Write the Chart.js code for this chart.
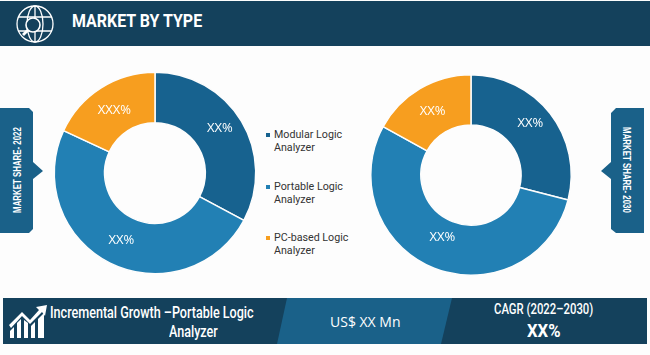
<!DOCTYPE html>
<html>
<head>
<meta charset="utf-8">
<script src="https://cdn.jsdelivr.net/npm/chart.js@4"></script>
<style>
html, body { margin: 0; padding: 0; background: #fdfdfd; }
#page { position: relative; width: 650px; height: 355px; overflow: hidden; font-family: "Roboto", sans-serif; }
#page > * { position: absolute; }
svg { left: 0; top: 0; }
.cv { width: 220px; height: 220px; }
.t { color: #fff; white-space: nowrap; transform-origin: left center; }
.lg { left: 266px; font: 10.7px/13px "Roboto", sans-serif; color: #333; padding-left: 8px; }
.lg i { position: absolute; left: 0; top: 5px; width: 4px; height: 4px; }
.side { color: #fff; font: bold 10.5px "Liberation Sans", sans-serif; white-space: nowrap; }
</style>
</head>
<body>
<div id="page">
  <svg width="650" height="355">
    <rect x="0" y="1" width="650" height="45" fill="#14415c"/>
    <rect x="3" y="298" width="644" height="46" fill="#14415c"/>
    <polygon points="287,298 452,298 441,344 277,344" fill="#1a6189"/>
    <polygon points="0,108 29,108 33,112 33,162 43,171 33,179 33,229 29,233 0,233" fill="#1a6189"/>
    <polygon points="644,108 616,108 611,113 611,162 601,171 611,179 611,229 616,233 644,233" fill="#1a6189"/>
    <g fill="none" stroke="#fff" stroke-width="1.3">
      <circle cx="35" cy="24" r="18"/>
      <ellipse cx="35" cy="24" rx="8" ry="18"/>
      <path d="M35 6V42M18 17H52M18 31H52"/>
      <circle cx="33" cy="25" r="7" fill="#14415c" stroke-width="1.6"/>
      <path d="M28 30L23 35" stroke-width="2.8"/>
    </g>
    <g fill="#fff">
      <polygon points="10,338 10,331 14,327 14,338"/>
      <polygon points="17,338 17,323 21,319 21,338"/>
      <polygon points="24,338 24,320 28,323 28,338"/>
      <polygon points="31,338 31,326 35,322 35,338"/>
      <polygon points="38,338 38,319 44,313 44,338"/>
      <polygon points="47,305 36,307 39,310 30,320 22,312 9,325 11,328 22,316 30,324 42,312 45,316"/>
    </g>
  </svg>
  <canvas id="c1" class="cv" width="220" height="220" style="left:45px;top:63px"></canvas>
  <canvas id="c2" class="cv" width="220" height="220" style="left:361px;top:65px"></canvas>
  <div id="legend"></div>
  <div class="t" style="left:72px;top:9px;font:bold 19px 'Roboto',sans-serif;transform:scaleX(0.84)">MARKET BY TYPE</div>
  <div class="side" style="left:17px;top:170px;transform:translate(-50%,-50%) rotate(-90deg) scaleX(0.75)">MARKET SHARE- 2022</div>
  <div class="side" style="left:627px;top:170px;transform:translate(-50%,-50%) rotate(90deg) scaleX(0.75)">MARKET SHARE- 2030</div>
  <div class="t" style="left:50px;top:303px;font:500 16px 'Roboto',sans-serif;transform:scaleX(0.786)">Incremental Growth –Portable Logic</div>
  <div class="t" style="left:169px;top:322px;font:500 16px 'Roboto',sans-serif;transform:scaleX(0.786)">Analyzer</div>
  <div class="t" style="left:330px;top:312px;font:14px 'Open Sans',sans-serif">US$ XX Mn</div>
  <div class="t" style="left:494px;top:301px;font:500 14px 'Roboto',sans-serif;transform:scaleX(0.81)">CAGR (2022–2030)</div>
  <div class="t" style="left:527px;top:319px;font:bold 19px 'Roboto',sans-serif;transform:scaleX(0.88)">XX%</div>
</div>
<script>
const categories = ["Modular Logic Analyzer", "Portable Logic Analyzer", "PC-based Logic Analyzer"];
const share2022 = [32.8, 49.1, 18.1];
const share2030 = [29, 54, 17];
const labels2022 = ["XX%", "XX%", "XXX%"];
const labels2030 = ["XX%", "XX%", "XX%"];
const colors = ["#17628f", "#2280b4", "#f79e1f"];

// draws the XX% text on each ring slice, nudge = small shift off the slice centre
const sliceLabels = {
    id: "sliceLabels",
    afterDatasetsDraw(chart) {
        const ctx = chart.ctx;
        const opts = chart.options.plugins.sliceLabels;
        ctx.save();
        ctx.font = "13px 'Open Sans', sans-serif";
        ctx.fillStyle = "#fff";
        ctx.textAlign = "center";
        ctx.textBaseline = "middle";
        chart.getDatasetMeta(0).data.forEach((arc, i) => {
            const p = arc.tooltipPosition();
            ctx.fillText(opts.texts[i], p.x + opts.nudge[i][0], p.y + opts.nudge[i][1]);
        });
        ctx.restore();
    },
};

function makeChart(id, values, texts, nudge, pad) {
    return new Chart(id, {
        type: "doughnut",
        plugins: [sliceLabels],
        data: {
            labels: categories,
            datasets: [{ data: values, backgroundColor: colors, borderColor: "#fdfdfd", borderWidth: 1.5 }],
        },
        options: {
            responsive: false,
            animation: false,
            cutout: "50%",
            layout: { padding: pad },
            plugins: {
                legend: { display: false },
                tooltip: { enabled: false },
                sliceLabels: { texts: texts, nudge: nudge },
            },
        },
    });
}

makeChart("c1", share2022, labels2022, [[0, -6], [0, 0], [0, 1]], 8.5);
makeChart("c2", share2030, labels2030, [[0, -6], [-1, -8], [0, 1]], 9);

const legendTops = [128, 180, 231];
categories.forEach((name, i) => {
    const el = document.createElement("div");
    el.className = "lg";
    el.style.top = legendTops[i] + "px";
    const words = name.split(" ");
    el.innerHTML = '<i style="background:' + colors[i] + '"></i>' + words.slice(0, -1).join(" ") + "<br>" + words[words.length - 1];
    document.getElementById("page").appendChild(el);
});
</script>
</body>
</html>
